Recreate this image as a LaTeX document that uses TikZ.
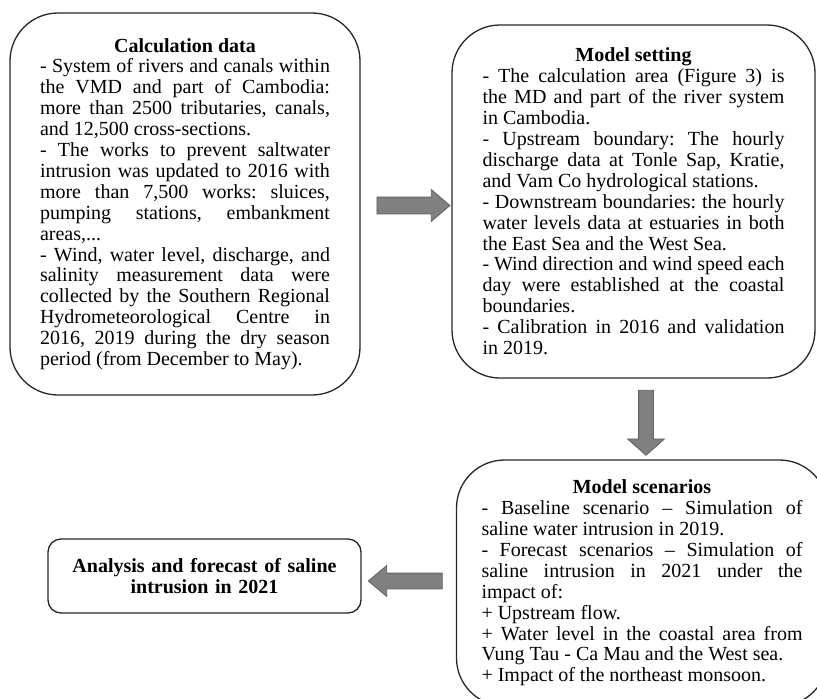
\documentclass[tikz,border=0pt]{standalone}
\usepackage{fontspec}
\setmainfont{Liberation Serif}
\usetikzlibrary{shapes.arrows}

\newcommand{\flowfont}{\fontsize{20}{20.9}\selectfont\frenchspacing\hyphenpenalty=10000\tolerance=9999}

\tikzset{
  infobox/.style={draw=black!85, line width=1.3pt, rounded corners=48pt,
    align=justify, font=\flowfont, inner ysep=0pt},
  resultbox/.style={draw=black!85, line width=1.3pt, rounded corners=13pt,
    align=center, font=\flowfont\bfseries, inner ysep=0pt},
  blockarrow/.style={single arrow, draw=black!62, fill=black!50,
    line width=0.8pt}
}

\begin{document}
\begin{tikzpicture}[x=1pt, y=-1pt]
  \useasboundingbox (0,0) rectangle (817,699);
  \clip (0,0) rectangle (817,699);

  % the four boxes
  \node[infobox, text width=290pt, inner xsep=30pt, minimum height=382pt] (calcdata) at (185,204) {%
    \centerline{\bfseries Calculation data}
    - System of rivers and canals within\linebreak
    the VMD and part of Cambodia:\linebreak
    more than 2500 tributaries, canals,\linebreak
    and 12,500 cross-sections.\par
    - The works to prevent saltwater\linebreak
    intrusion was updated to 2016 with\linebreak
    more than 7,500 works: sluices,\linebreak
    pumping stations, embankment\linebreak
    areas,...\par
    - Wind, water level, discharge, and\linebreak
    salinity measurement data were\linebreak
    collected by the Southern Regional\linebreak
    Hydrometeorological Centre in\linebreak
    2016, 2019 during the dry season\linebreak
    period (from December to May).};

  \node[infobox, text width=302pt, inner xsep=30.5pt, minimum height=353pt] (modelset) at (633.5,201.5) {%
    \centerline{\bfseries Model setting}
    - The calculation area (Figure 3) is\linebreak
    the MD and part of the river system\linebreak
    in Cambodia.\par
    - Upstream boundary: The hourly\linebreak
    discharge data at Tonle Sap, Kratie,\linebreak
    and Vam Co hydrological stations.\par
    - Downstream boundaries: the hourly\linebreak
    water levels data at estuaries in both\linebreak
    the East Sea and the West Sea.\par
    - Wind direction and wind speed each\linebreak
    day were established at the coastal\linebreak
    boundaries.\par
    - Calibration in 2016 and validation\linebreak
    in 2019.};

  \node[infobox, text width=321pt, inner xsep=25pt, minimum height=246pt] (scenarios) at (642,583) {%
    \centerline{\bfseries Model scenarios}
    - Baseline scenario -- Simulation of\linebreak
    saline water intrusion in 2019.\par
    - Forecast scenarios -- Simulation of\linebreak
    saline intrusion in 2021 under the\linebreak
    impact of:\par
    + Upstream flow.\par
    + Water level in the coastal area from\linebreak
    Vung Tau - Ca Mau and the West sea.\par
    + Impact of the northeast monsoon.};

  \node[resultbox, text width=290pt, inner xsep=11.5pt, minimum height=74pt] (analysis) at (204.5,576) {%
    Analysis and forecast of saline\\ intrusion in 2021};

  % block arrows between the boxes
  \node[blockarrow, inner sep=8pt, minimum height=73pt, minimum width=31pt,
    single arrow head extend=7.5pt, single arrow tip angle=81] (calcarrow) at (408.5,205.5) {};
  \node[blockarrow, inner sep=7pt, shape border rotate=270, minimum height=65pt, minimum width=36pt,
    single arrow head extend=11pt, single arrow tip angle=97] (setarrow) at (646,419.5) {};
  \node[blockarrow, inner sep=7.5pt, shape border rotate=180, minimum height=74pt, minimum width=30pt,
    single arrow head extend=7.5pt, single arrow tip angle=80] (scenarrow) at (410,581) {};
\end{tikzpicture}
\end{document}
